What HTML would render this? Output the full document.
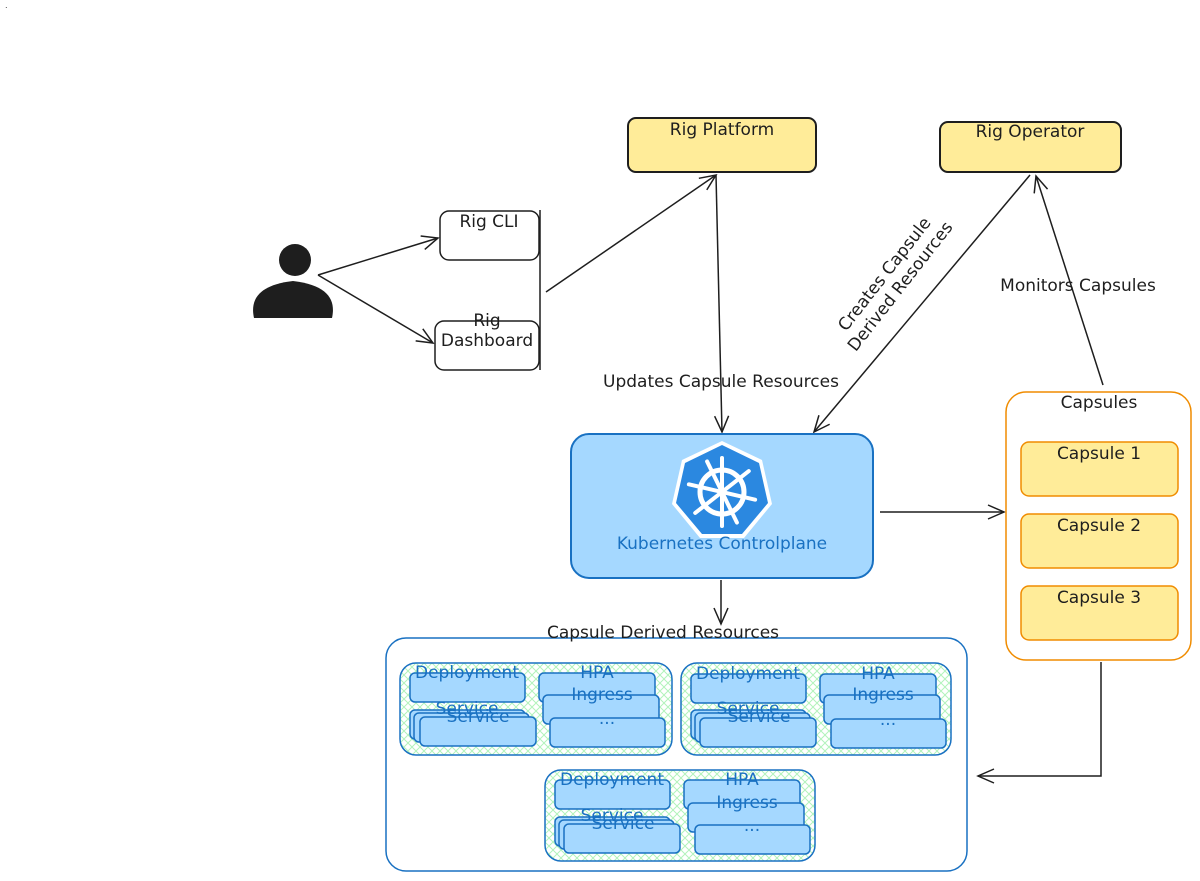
<!DOCTYPE html>
<html><head><meta charset="utf-8"><style>
html,body{margin:0;padding:0;background:#fff;}
svg{display:block;font-family:"DejaVu Sans","Liberation Sans",sans-serif;}
</style></head><body>
<svg width="1200" height="881" viewBox="0 0 1200 881" xmlns="http://www.w3.org/2000/svg">
<defs>
<pattern id="hatch" width="8" height="8" patternUnits="userSpaceOnUse">
<path d="M0 0L8 8M8 0L0 8" stroke="#b2f2bb" stroke-width="1"/>
</pattern>
<marker id="ah" viewBox="0 0 20 20" refX="18" refY="10" markerWidth="20" markerHeight="20" markerUnits="userSpaceOnUse" orient="auto">
<path d="M2 3L18 10L2 17" fill="none" stroke="#1e1e1e" stroke-width="1.5"/>
</marker>
</defs>
<text x="5" y="8" font-size="8" fill="#333">.</text>

<rect x="628" y="118" width="188" height="54" rx="8" fill="#ffec99" stroke="#1e1e1e" stroke-width="2"/>
<text x="722" y="135" font-size="17" text-anchor="middle" fill="#1e1e1e">Rig Platform</text>
<rect x="940" y="122" width="181" height="50" rx="8" fill="#ffec99" stroke="#1e1e1e" stroke-width="2"/>
<text x="1030" y="137" font-size="17" text-anchor="middle" fill="#1e1e1e">Rig Operator</text>

<rect x="440" y="211" width="99" height="49" rx="9" fill="#fff" stroke="#1e1e1e" stroke-width="1.5"/>
<text x="489" y="227" font-size="17" text-anchor="middle" fill="#1e1e1e">Rig CLI</text>
<rect x="435" y="321" width="104" height="49" rx="9" fill="#fff" stroke="#1e1e1e" stroke-width="1.5"/>
<text x="487" y="326" font-size="17" text-anchor="middle" fill="#1e1e1e">Rig</text>
<text x="487" y="346" font-size="17" text-anchor="middle" fill="#1e1e1e">Dashboard</text>
<line x1="540" y1="210" x2="540" y2="370" stroke="#1e1e1e" stroke-width="1.5"/>

<circle cx="295" cy="260" r="16" fill="#1e1e1e"/>
<path d="M254 318 C250 300 258 285 293 281 C328 285 336 300 332 318 Z" fill="#1e1e1e"/>

<g stroke="#1e1e1e" stroke-width="1.5" fill="none" marker-end="url(#ah)">
<line x1="318" y1="275" x2="438" y2="238"/>
<line x1="318" y1="275" x2="433" y2="343"/>
<line x1="546" y1="292" x2="716" y2="175"/>
<line x1="716" y1="175" x2="722" y2="432"/>
<line x1="1030" y1="175" x2="814" y2="432"/>
<line x1="1103" y1="385" x2="1036" y2="176"/>
<line x1="880" y1="512" x2="1004" y2="512"/>
<line x1="721" y1="580" x2="721" y2="624"/>
<polyline points="1101,662 1101,776 978,776"/>
</g>

<text x="721" y="387" font-size="17" text-anchor="middle" fill="#1e1e1e">Updates Capsule Resources</text>
<text x="1078" y="291" font-size="17" text-anchor="middle" fill="#1e1e1e">Monitors Capsules</text>
<g transform="translate(892,280) rotate(-52)" font-size="17" fill="#1e1e1e" text-anchor="middle">
<text x="0" y="-4">Creates Capsule</text>
<text x="0" y="16">Derived Resources</text>
</g>

<rect x="571" y="434" width="302" height="144" rx="18" fill="#a5d8ff" stroke="#1971c2" stroke-width="2"/>
<g transform="translate(722,492)">
<polygon points="0,-51 40,-32 50,12 22,46 -22,46 -50,12 -40,-32" fill="#fff"/>
<polygon points="0,-47 37,-29 46,11 20,42 -20,42 -46,11 -37,-29" fill="#2b88e0"/>
<circle r="22" fill="none" stroke="#fff" stroke-width="5"/>
<g stroke="#fff" stroke-width="4" stroke-linecap="round">
<line x1="0" y1="-34" x2="0" y2="34"/>
<line x1="-34" y1="0" x2="34" y2="0" transform="rotate(64)"/>
<line x1="-34" y1="0" x2="34" y2="0" transform="rotate(13)"/>
<line x1="-34" y1="0" x2="34" y2="0" transform="rotate(-38)"/>
</g>
<circle r="4" fill="#fff"/>
</g>
<text x="722" y="549" font-size="17" text-anchor="middle" fill="#1971c2">Kubernetes Controlplane</text>

<rect x="1006" y="392" width="185" height="268" rx="20" fill="#fff" stroke="#f08c00" stroke-width="1.5"/>
<text x="1099" y="408" font-size="17" text-anchor="middle" fill="#1e1e1e">Capsules</text>
<g fill="#ffec99" stroke="#f08c00" stroke-width="1.5">
<rect x="1021" y="442" width="157" height="54" rx="8"/>
<rect x="1021" y="514" width="157" height="54" rx="8"/>
<rect x="1021" y="586" width="157" height="54" rx="8"/>
</g>
<g font-size="17" text-anchor="middle" fill="#1e1e1e">
<text x="1099" y="459">Capsule 1</text>
<text x="1099" y="531">Capsule 2</text>
<text x="1099" y="603">Capsule 3</text>
</g>

<rect x="386" y="638" width="581" height="233" rx="20" fill="#fff" stroke="#1971c2" stroke-width="1.5"/>
<text x="663" y="638" font-size="17" text-anchor="middle" fill="#1e1e1e">Capsule Derived Resources</text>

<g transform="translate(400,663)">
<rect x="0" y="0" width="272" height="92" rx="16" fill="url(#hatch)" stroke="#1971c2" stroke-width="1.5"/>
<g fill="#a5d8ff" stroke="#1971c2" stroke-width="1.5">
<rect x="10" y="10" width="115" height="29" rx="5"/>
<rect x="10" y="47" width="115" height="29" rx="5"/>
<rect x="14" y="50" width="115" height="29" rx="5"/>
<rect x="20" y="54" width="116" height="29" rx="5"/>
<rect x="139" y="10" width="116" height="29" rx="5"/>
<rect x="143" y="32" width="116" height="29" rx="5"/>
<rect x="150" y="55" width="115" height="29" rx="5"/>
</g>
<g font-size="17" text-anchor="middle" fill="#1971c2">
<text x="67" y="15">Deployment</text>
<text x="67" y="51">Service</text>
<text x="78" y="59">Service</text>
<text x="197" y="15">HPA</text>
<text x="202" y="37">Ingress</text>
<text x="207" y="61">...</text>
</g>
</g>
<g transform="translate(681,663)">
<rect x="0" y="0" width="270" height="92" rx="16" fill="url(#hatch)" stroke="#1971c2" stroke-width="1.5"/>
<g fill="#a5d8ff" stroke="#1971c2" stroke-width="1.5">
<rect x="10" y="11" width="115" height="29" rx="5"/>
<rect x="10" y="47" width="115" height="29" rx="5"/>
<rect x="14" y="50" width="115" height="29" rx="5"/>
<rect x="19" y="55" width="116" height="29" rx="5"/>
<rect x="139" y="11" width="116" height="29" rx="5"/>
<rect x="143" y="32" width="116" height="29" rx="5"/>
<rect x="150" y="56" width="115" height="29" rx="5"/>
</g>
<g font-size="17" text-anchor="middle" fill="#1971c2">
<text x="67" y="16">Deployment</text>
<text x="67" y="51">Service</text>
<text x="78" y="59">Service</text>
<text x="197" y="16">HPA</text>
<text x="202" y="37">Ingress</text>
<text x="207" y="62">...</text>
</g>
</g>
<g transform="translate(545,770)">
<rect x="0" y="0" width="270" height="91" rx="16" fill="url(#hatch)" stroke="#1971c2" stroke-width="1.5"/>
<g fill="#a5d8ff" stroke="#1971c2" stroke-width="1.5">
<rect x="10" y="10" width="115" height="29" rx="5"/>
<rect x="10" y="47" width="115" height="29" rx="5"/>
<rect x="14" y="50" width="115" height="29" rx="5"/>
<rect x="19" y="54" width="116" height="29" rx="5"/>
<rect x="139" y="10" width="116" height="29" rx="5"/>
<rect x="143" y="33" width="116" height="29" rx="5"/>
<rect x="150" y="55" width="115" height="29" rx="5"/>
</g>
<g font-size="17" text-anchor="middle" fill="#1971c2">
<text x="67" y="15">Deployment</text>
<text x="67" y="51">Service</text>
<text x="78" y="59">Service</text>
<text x="197" y="15">HPA</text>
<text x="202" y="38">Ingress</text>
<text x="207" y="61">...</text>
</g>
</g>
</svg>
</body></html>
